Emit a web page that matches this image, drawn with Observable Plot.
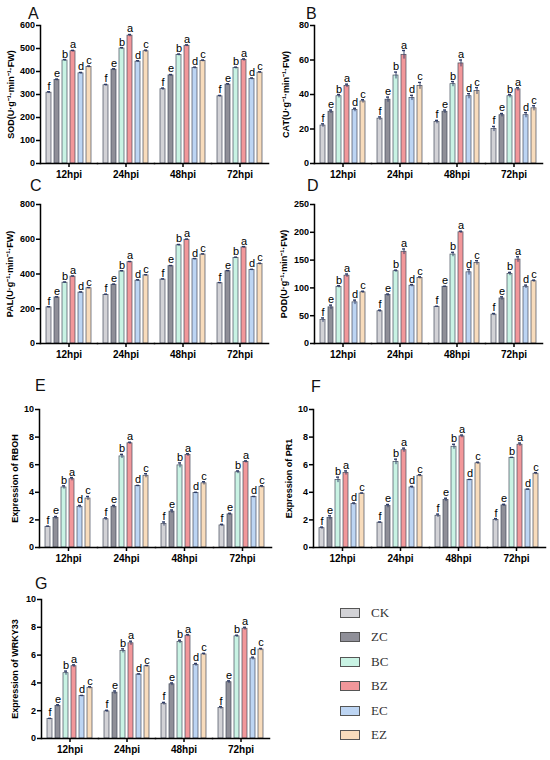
<!DOCTYPE html>
<html><head><meta charset="utf-8">
<script src="https://cdn.jsdelivr.net/npm/d3@7"></script>
<script src="https://cdn.jsdelivr.net/npm/@observablehq/plot@0.6"></script>
<style>
html,body{margin:0;padding:0;background:#fff}
body{width:550px;height:760px;position:relative;overflow:hidden;font-family:"Liberation Sans",Arial,sans-serif}
.panel{position:absolute}
.letter{position:absolute;font-family:"Liberation Sans",Arial,sans-serif;font-size:16px;line-height:16px;color:#111}
.leg{position:absolute;left:340px;font-family:"Liberation Serif","DejaVu Serif",serif;font-size:13px;color:#333;display:flex;align-items:center;height:14px}
.leg span.box{display:inline-block;width:18px;height:8px;border:1px solid #555;margin-right:11px}
</style></head>
<body>
<script>
const times = ["12hpi", "24hpi", "48hpi", "72hpi"];
const treatments = ["CK", "ZC", "BC", "BZ", "EC", "EZ"];
const colors = ["#d2d2d6", "#8f8f98", "#c9f3e4", "#f2979a", "#bdd5f3", "#f8dcbc"];
const sigLetters = ["f", "e", "b", "a", "d", "c"];

// rows = time points, columns = treatments
const sod = [[308, 363, 448, 488, 392, 420], [340, 408, 500, 556, 443, 488], [323, 383, 472, 512, 415, 446], [292, 343, 415, 450, 368, 395]];
const sodErr = [[4, 4, 4, 4, 4, 4], [4, 4, 4, 5, 4, 5], [5, 4, 4, 4, 4, 4], [4, 4, 4, 5, 4, 4]];
const cat = [[22, 30, 39, 45, 31, 36], [26, 37, 51, 63, 38, 45], [24, 30, 46, 58, 39, 42], [20, 28, 39, 43, 28, 32]];
const catErr = [[1, 1, 1, 1, 1, 1], [1, 1.5, 2, 2.5, 1.5, 2], [1, 1, 1.5, 2, 1.5, 2], [1.5, 1, 1, 1, 1.5, 1.5]];
const pal = [[208, 265, 350, 385, 293, 318], [280, 338, 415, 468, 362, 392], [368, 445, 565, 597, 485, 512], [347, 416, 493, 553, 423, 457]];
const palErr = [[4, 4, 4, 4, 4, 4], [4, 4, 4, 4, 5, 4], [4, 4, 5, 4, 4, 4], [4, 4, 4, 5, 4, 5]];
const pod = [[42, 65, 102, 122, 74, 92], [58, 87, 130, 165, 104, 118], [66, 102, 160, 200, 128, 145], [52, 81, 125, 151, 102, 112]];
const podErr = [[4, 4, 2, 3, 4, 2], [2, 2, 2, 5, 2, 2], [1, 1, 4, 2, 5, 4], [2, 3, 3, 5, 3, 2]];
const rboh = [[1.5, 2.15, 4.35, 4.95, 2.95, 3.55], [2.05, 2.95, 6.6, 7.55, 4.45, 5.2], [1.7, 2.6, 5.95, 6.7, 3.95, 4.65], [1.6, 2.4, 5.45, 6.2, 3.65, 4.4]];
const rbohErr = [[0.05, 0.1, 0.12, 0.12, 0.1, 0.15], [0.1, 0.1, 0.15, 0.08, 0.05, 0.15], [0.15, 0.12, 0.18, 0.1, 0.05, 0.12], [0.08, 0.08, 0.1, 0.08, 0.05, 0.08]];
const pr1 = [[1.4, 2.15, 4.9, 5.4, 3.15, 3.9], [1.8, 3.0, 6.2, 7.05, 4.35, 5.2], [2.3, 3.45, 7.3, 8.05, 4.9, 6.1], [2.0, 3.05, 6.5, 7.45, 4.2, 5.35]];
const pr1Err = [[0.08, 0.15, 0.2, 0.15, 0.08, 0.05], [0.05, 0.12, 0.2, 0.15, 0.08, 0.08], [0.12, 0.12, 0.18, 0.1, 0.03, 0.08], [0.1, 0.08, 0.03, 0.12, 0.03, 0.08]];
const wrky33 = [[1.4, 2.35, 4.7, 5.2, 3.05, 3.65], [1.95, 3.3, 6.3, 6.85, 4.6, 5.2], [2.5, 3.9, 6.95, 7.4, 5.3, 6.05], [2.2, 4.05, 7.35, 7.9, 5.75, 6.4]];
const wrky33Err = [[0.05, 0.08, 0.15, 0.1, 0.05, 0.08], [0.08, 0.12, 0.15, 0.15, 0.05, 0.05], [0.1, 0.1, 0.12, 0.08, 0.1, 0.08], [0.1, 0.1, 0.08, 0.1, 0.1, 0.08]];

function toRows(values, errors) {
  const rows = [];
  times.forEach((t, i) => treatments.forEach((k, j) => rows.push({time: t, trt: k, v: values[i][j], e: errors[i][j], sig: sigLetters[j]})));
  return rows;
}

function panel(cfg) {
  const rows = toRows(cfg.values, cfg.errors);
  const chart = Plot.plot({
    width: cfg.width, height: cfg.height,
    marginLeft: cfg.ml, marginRight: cfg.mr, marginTop: cfg.mt, marginBottom: cfg.mb,
    style: {fontFamily: "'Liberation Sans', Arial, sans-serif", fontWeight: "bold", fontSize: "9px", color: "#000", background: "transparent", overflow: "visible"},
    fx: {domain: times, padding: 0},
    x: {domain: treatments, paddingInner: 0.35, paddingOuter: 0.47, axis: null},
    y: {domain: [0, cfg.yMax]},
    color: {domain: treatments, range: colors},
    marks: [
      Plot.barY(rows, {fx: "time", x: "trt", y: "v", fill: "trt", stroke: "#464c5c", strokeWidth: 0.7}),
      Plot.ruleX(rows, {fx: "time", x: "trt", y1: d => d.v - d.e, y2: d => d.v + d.e, stroke: "#2c3a66", strokeWidth: 0.9}),
      Plot.tickY(rows, {fx: "time", x: "trt", y: d => d.v + d.e, stroke: "#2c3a66", strokeWidth: 1.3, insetLeft: 1, insetRight: 1}),
      Plot.text(rows, {fx: "time", x: "trt", y: d => d.v + d.e, text: "sig", dy: -2, lineAnchor: "bottom", fontWeight: "normal", fontSize: 11, fill: "black"}),
      Plot.frame({anchor: "bottom", stroke: "#000", strokeWidth: 1.5}),
      Plot.frame({anchor: "left", facetAnchor: "left", stroke: "#000", strokeWidth: 1.5}),
      Plot.axisY({ticks: cfg.yTicks, tickSize: 4, tickPadding: 1.5, strokeWidth: 1.5, fontSize: 9, label: cfg.yLabel, labelAnchor: "center", labelArrow: "none", labelOffset: cfg.labelOffset}),
      Plot.axisFx({anchor: "bottom", tickSize: 4, tickPadding: 3, strokeWidth: 1.5, label: null, fontSize: 10})
    ]
  });
  const div = document.createElement("div");
  div.className = "panel";
  div.style.left = cfg.left + "px";
  div.style.top = cfg.top + "px";
  div.appendChild(chart);
  document.body.appendChild(div);
  const L = document.createElement("div");
  L.className = "letter";
  L.textContent = cfg.letter;
  L.style.left = cfg.letterX + "px";
  L.style.top = (cfg.letterY - 2) + "px";
  document.body.appendChild(L);
}

panel({letter: "A", letterX: 28, letterY: 8, values: sod, errors: sodErr, yMax: 600, yTicks: [0, 100, 200, 300, 400, 500, 600], yLabel: "SOD(U·g⁻¹·min⁻¹·FW)", left: 0, top: 0, width: 275, height: 185, ml: 38, mr: 6, mt: 25, mb: 22, labelOffset: 33});
panel({letter: "B", letterX: 306, letterY: 8, values: cat, errors: catErr, yMax: 80, yTicks: [0, 20, 40, 60, 80], yLabel: "CAT(U·g⁻¹·min⁻¹·FW)", left: 275, top: 0, width: 275, height: 185, ml: 37, mr: 7, mt: 25, mb: 22, labelOffset: 32});
panel({letter: "C", letterX: 30, letterY: 180, values: pal, errors: palErr, yMax: 800, yTicks: [0, 200, 400, 600, 800], yLabel: "PAL(U·g⁻¹·min⁻¹·FW)", left: 0, top: 180, width: 275, height: 185, ml: 40, mr: 7, mt: 24, mb: 22, labelOffset: 34});
panel({letter: "D", letterX: 307, letterY: 180, values: pod, errors: podErr, yMax: 250, yTicks: [0, 50, 100, 150, 200, 250], yLabel: "POD(U·g⁻¹·min⁻¹·FW)", left: 275, top: 180, width: 275, height: 185, ml: 39, mr: 8, mt: 24, mb: 22, labelOffset: 34});
panel({letter: "E", letterX: 35, letterY: 380, values: rboh, errors: rbohErr, yMax: 10, yTicks: [0, 2, 4, 6, 8, 10], yLabel: "Expression of RBOH", left: 0, top: 385, width: 275, height: 185, ml: 38, mr: 4, mt: 24, mb: 23, labelOffset: 28});
panel({letter: "F", letterX: 311, letterY: 381, values: pr1, errors: pr1Err, yMax: 10, yTicks: [0, 2, 4, 6, 8, 10], yLabel: "Expression of PR1", left: 275, top: 385, width: 275, height: 185, ml: 37, mr: 5, mt: 24, mb: 23, labelOffset: 28});
panel({letter: "G", letterX: 35, letterY: 578, values: wrky33, errors: wrky33Err, yMax: 10, yTicks: [0, 2, 4, 6, 8, 10], yLabel: "Expression of WRKY33", left: 0, top: 575, width: 275, height: 185, ml: 40, mr: 5, mt: 24, mb: 22, labelOffset: 30});

// legend
const legendTops = treatments.map((_, i) => 606 + i * 24.4);
treatments.forEach((k, i) => {
  const row = document.createElement("div");
  row.className = "leg";
  row.style.top = legendTops[i] + "px";
  row.innerHTML = `<span class="box" style="background:${colors[i]}"></span>${k}`;
  document.body.appendChild(row);
});
</script>
</body></html>
